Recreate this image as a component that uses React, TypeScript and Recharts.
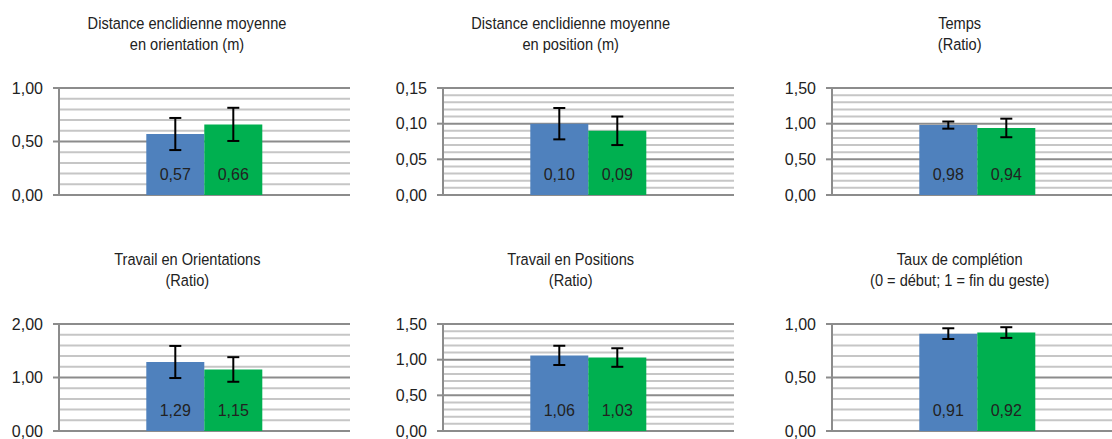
import React from 'react';
import { BarChart, Bar, XAxis, YAxis, CartesianGrid, ErrorBar, LabelList } from 'recharts';

// ---- data ----
const TITLE_LINE1 = [
  'Distance enclidienne moyenne',
  'Distance enclidienne moyenne',
  'Temps',
  'Travail en Orientations',
  'Travail en Positions',
  'Taux de complétion',
];
const TITLE_LINE2 = [
  'en orientation (m)',
  'en position (m)',
  '(Ratio)',
  '(Ratio)',
  '(Ratio)',
  '(0 = début; 1 = fin du geste)',
];
const BLUE_VALUES = [0.57, 0.10, 0.98, 1.29, 1.06, 0.91];
const GREEN_VALUES = [0.66, 0.09, 0.94, 1.15, 1.03, 0.92];
const BLUE_ERRORS = [0.15, 0.022, 0.05, 0.30, 0.135, 0.05];
const GREEN_ERRORS = [0.155, 0.02, 0.13, 0.23, 0.13, 0.05];
const Y_TICKS = [
  [0, 0.5, 1],
  [0, 0.05, 0.1, 0.15],
  [0, 0.5, 1, 1.5],
  [0, 1, 2],
  [0, 0.5, 1, 1.5],
  [0, 0.5, 1],
];
const MINOR_STEPS = [0.1, 0.01, 0.1, 0.2, 0.1, 0.1];

// ---- layout ----
const PLOT_LEFT = [59, 442.7, 831.7, 59.3, 442.7, 831.7];
const PLOT_TOP = [88.3, 88.3, 88.3, 323.7, 323.7, 323.7];
const PLOT_W = 291;
const PLOT_H = 107;
const YAXIS_W = 60;
const M_TOP = 10;
const M_BOTTOM = 10;

const BLUE = '#4F81BD';
const GREEN = '#00B050';
const MAJOR = '#8C8C8C';
const MINOR = '#C6C6C6';
const TEXT = '#222222';
const NUM_FONT = "'Liberation Sans', Arial, sans-serif";
const TITLE_FONT = "'Liberation Sans', Arial, sans-serif";
const TITLE_SIZE = 14.6;
const TITLE_LH = 17.8;
const TITLE_SCALE_Y = 1.15;

const fmt = (v: any) => Number(v).toFixed(2).replace('.', ',');

function minorValues(ticks: number[], step: number): number[] {
  const max = ticks[ticks.length - 1];
  const out: number[] = [];
  const n = Math.round(max / step);
  for (let k = 1; k < n; k++) {
    const v = Math.round(k * step * 1e6) / 1e6;
    if (!ticks.some((t) => Math.abs(t - v) < 1e-6)) out.push(v);
  }
  return out;
}

function Panel({ i }: { i: number }) {
  const ticks = Y_TICKS[i];
  const max = ticks[ticks.length - 1];
  const data = [
    {
      name: 'c',
      blue: BLUE_VALUES[i],
      green: GREEN_VALUES[i],
      blueErr: BLUE_ERRORS[i],
      greenErr: GREEN_ERRORS[i],
    },
  ];
  const left = PLOT_LEFT[i] - YAXIS_W;
  const top = PLOT_TOP[i] - M_TOP;
  const titleCx = PLOT_LEFT[i] + 128;
  return (
    <>
      <div
        style={{
          position: 'absolute',
          left: titleCx - 200,
          width: 400,
          top: PLOT_TOP[i] - 71,
          textAlign: 'center',
          fontFamily: TITLE_FONT,
          fontSize: TITLE_SIZE,
          lineHeight: `${TITLE_LH}px`,
          color: TEXT,
          whiteSpace: 'nowrap',
          transform: `scaleY(${TITLE_SCALE_Y})`,
          transformOrigin: '50% 50%',
        }}
      >
        <div>{TITLE_LINE1[i]}</div>
        <div>{TITLE_LINE2[i]}</div>
      </div>
      <div style={{ position: 'absolute', left, top }}>
        <BarChart
          width={YAXIS_W + PLOT_W}
          height={M_TOP + PLOT_H + M_BOTTOM}
          data={data}
          margin={{ top: M_TOP, right: 0, bottom: M_BOTTOM, left: 0 }}
          barCategoryGap="30%"
          barGap={0}
        >
          <CartesianGrid
            vertical={false}
            horizontalValues={minorValues(ticks, MINOR_STEPS[i])}
            stroke={MINOR}
            strokeWidth={2}
          />
          <CartesianGrid vertical={false} horizontalValues={ticks} stroke={MAJOR} strokeWidth={2} />
          <XAxis dataKey="name" hide />
          <YAxis
            width={YAXIS_W}
            domain={[0, max]}
            ticks={ticks}
            interval={0}
            tickFormatter={fmt}
            axisLine={{ stroke: MAJOR, strokeWidth: 2 }}
            tickLine={{ stroke: MAJOR, strokeWidth: 2 }}
            tickSize={6}
            tickMargin={10}
            tick={{ fill: TEXT, fontSize: 16, fontFamily: NUM_FONT }}
          />
          <Bar dataKey="blue" fill={BLUE} isAnimationActive={false}>
            <ErrorBar dataKey="blueErr" width={6} stroke="#000" strokeWidth={2} isAnimationActive={false} />
            <LabelList
              dataKey="blue"
              position="insideBottom"
              offset={15}
              formatter={fmt}
              style={{ fill: TEXT, fontSize: 16, fontFamily: NUM_FONT }}
            />
          </Bar>
          <Bar dataKey="green" fill={GREEN} isAnimationActive={false}>
            <ErrorBar dataKey="greenErr" width={6} stroke="#000" strokeWidth={2} isAnimationActive={false} />
            <LabelList
              dataKey="green"
              position="insideBottom"
              offset={15}
              formatter={fmt}
              style={{ fill: TEXT, fontSize: 16, fontFamily: NUM_FONT }}
            />
          </Bar>
        </BarChart>
      </div>
    </>
  );
}

export default function App() {
  return (
    <div
      style={{
        position: 'absolute',
        left: 0,
        top: 0,
        width: 1112,
        height: 439,
        overflow: 'hidden',
        background: '#fff',
      }}
    >
      {BLUE_VALUES.map((_, i) => (
        <Panel key={i} i={i} />
      ))}
    </div>
  );
}
